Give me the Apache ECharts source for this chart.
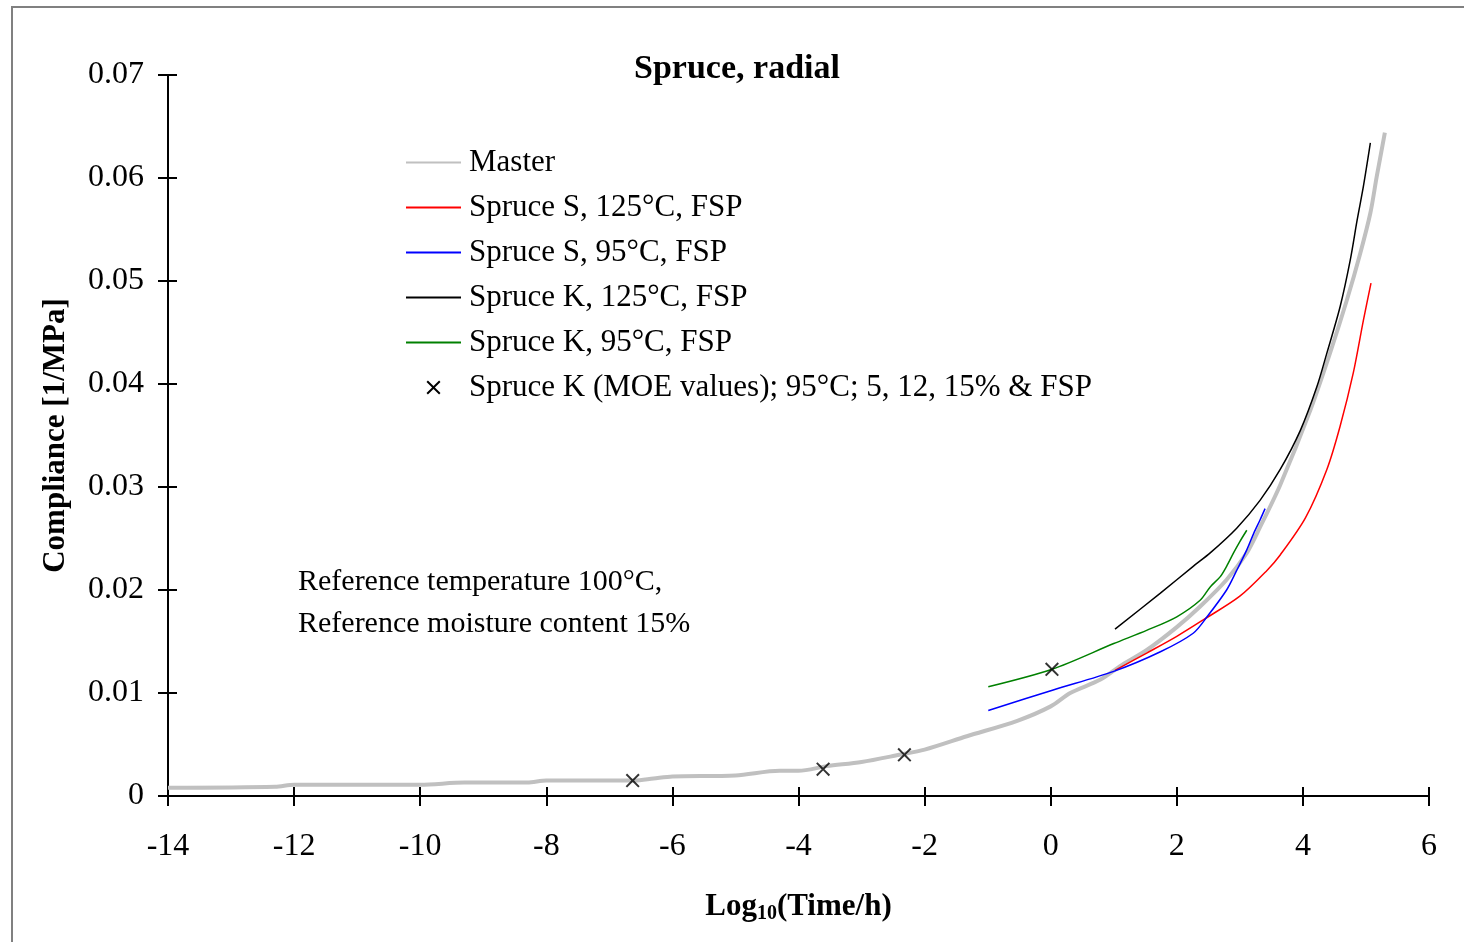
<!DOCTYPE html>
<html><head><meta charset="utf-8">
<script src="https://cdn.jsdelivr.net/npm/echarts@6/dist/echarts.min.js"></script>
<style>html,body{margin:0;padding:0;background:#fff}#c{width:1464px;height:942px}</style>
</head><body><div id="c"></div>
<script>
const xTicks = [-14,-12,-10,-8,-6,-4,-2,0,2,4,6];
const yTicks = [0,0.01,0.02,0.03,0.04,0.05,0.06,0.07];

const master = [[-14,0.0008],[-12.3,0.0009],[-12.0,0.0011],[-10.0,0.0011],[-9.3,0.0013],[-8.3,0.0013],[-8.0,0.0015],[-7.1,0.0015],[-6.6,0.0015],[-6.3,0.0017],[-6.0,0.0019],[-5.0,0.0020],[-4.3,0.00245],[-4.0,0.00245],[-3.55,0.0029],[-3.0,0.0033],[-2.4,0.0040],[-2.0,0.0045],[-1.33,0.0058],[-0.53,0.0073],[0.0,0.0087],[0.31,0.0100],[0.79,0.0113],[1.1,0.0126],[1.53,0.0142],[2.0,0.0164],[2.37,0.0184],[2.79,0.0210],[3.11,0.0236],[3.32,0.0261],[3.64,0.0302],[4.12,0.0375],[4.43,0.0430],[4.70,0.0482],[4.91,0.0527],[5.07,0.0566],[5.17,0.0601],[5.30,0.0644]];
const sprS125 = [[1.02,0.0122],[1.53,0.0139],[2.0,0.0155],[2.42,0.0171],[3.0,0.0194],[3.43,0.0219],[3.64,0.0234],[4.04,0.0270],[4.38,0.0317],[4.59,0.0359],[4.80,0.0411],[4.96,0.0462],[5.08,0.0498]];
const sprS95 = [[-0.99,0.0083],[0.04,0.0103],[1.0,0.0121],[1.74,0.0140],[2.26,0.0158],[2.48,0.0174],[2.79,0.0200],[2.95,0.0219],[3.11,0.0239],[3.22,0.0255],[3.32,0.0268],[3.40,0.0279]];
const sprK125 = [[1.02,0.0162],[1.74,0.0197],[2.26,0.0223],[2.53,0.0236],[2.95,0.0260],[3.32,0.0287],[3.64,0.0317],[3.96,0.0355],[4.22,0.0397],[4.38,0.0430],[4.59,0.0475],[4.75,0.0520],[4.86,0.0559],[4.96,0.0592],[5.07,0.0634]];
const sprK95 = [[-0.99,0.0106],[0.02,0.0123],[1.0,0.0148],[1.53,0.0161],[2.0,0.0174],[2.37,0.0190],[2.53,0.0203],[2.69,0.0213],[2.79,0.0223],[2.90,0.0236],[3.0,0.0247],[3.11,0.0258]];
const moe = [[-6.63,0.0015],[-3.61,0.0026],[-2.32,0.0040],[0.02,0.0123]];

const seriesNames = ['Master','Spruce S, 125°C, FSP','Spruce S, 95°C, FSP','Spruce K, 125°C, FSP','Spruce K, 95°C, FSP','Spruce K (MOE values); 95°C; 5, 12, 15% & FSP'];
const titleText = 'Spruce, radial';
const noteText = 'Reference temperature 100°C,\nReference moisture content 15%';

const crossPath = 'path://M0,10L10,0L50,40L90,0L100,10L60,50L100,90L90,100L50,60L10,100L0,90L40,50Z';
const FONT = '"Liberation Serif","Times New Roman",serif';

const chart = echarts.init(document.getElementById('c'), null, {renderer:'canvas'});
function line(name, data, color, width, z){
  return {name, type:'line', data, symbol:'none', showSymbol:false, z:z||2,
    smooth:0.3,
    lineStyle:{color, width}, itemStyle:{color}, animation:false};
}
chart.setOption({
  animation:false,
  backgroundColor:'#fff',
  textStyle:{fontFamily:FONT},
  grid:{left:168, right:35, top:75, bottom:146},
  legend:{orient:'vertical', left:405, top:147, padding:0, itemWidth:55, itemHeight:14, itemGap:14,
    itemStyle:{opacity:0},
    data:[
      {name:seriesNames[0]},{name:seriesNames[1]},{name:seriesNames[2]},{name:seriesNames[3]},{name:seriesNames[4]},
      {name:seriesNames[5], icon:crossPath, itemStyle:{opacity:1, color:'#000'}}
    ],
    textStyle:{fontFamily:FONT, fontSize:31, color:'#000', padding:[0,0,0,3], lineHeight:31},
    selectedMode:false},
  xAxis:[{type:'value', min:xTicks[0], max:xTicks[xTicks.length-1], interval:2,
    axisLine:{onZero:false, lineStyle:{color:'#000', width:2}},
    axisTick:{show:true, inside:false, length:10, lineStyle:{color:'#000', width:2}},
    axisLabel:{fontFamily:FONT, fontSize:32, color:'#000', margin:35},
    splitLine:{show:false},
    name:'{b|Log}{s|10}{b|(Time/h)}', nameLocation:'middle', nameGap:93,
    nameTextStyle:{rich:{b:{fontFamily:FONT, fontWeight:'bold', fontSize:31, color:'#000'},
      s:{fontFamily:FONT, fontWeight:'bold', fontSize:20, color:'#000', verticalAlign:'bottom', padding:[15,0,0,0]}}}
  },{type:'value', min:xTicks[0], max:xTicks[xTicks.length-1], interval:2, position:'bottom',
    axisLine:{show:false, onZero:false}, axisTick:{show:true, inside:true, length:9, lineStyle:{color:'#000', width:2}},
    axisLabel:{show:false}, splitLine:{show:false}}],
  yAxis:[{type:'value', min:yTicks[0], max:yTicks[yTicks.length-1], interval:0.01,
    axisLine:{show:true, onZero:false, lineStyle:{color:'#000', width:2}},
    axisTick:{show:true, inside:false, length:10, lineStyle:{color:'#000', width:2}},
    axisLabel:{fontFamily:FONT, fontSize:32, color:'#000', margin:24,
      formatter:v=> v===0 ? '0' : v.toFixed(2)},
    splitLine:{show:false},
    name:'Compliance [1/MPa]', nameLocation:'middle', nameGap:97, nameRotate:90,
    nameTextStyle:{fontFamily:FONT, fontWeight:'bold', fontSize:31, color:'#000'}
  },{type:'value', min:yTicks[0], max:yTicks[yTicks.length-1], interval:0.01, position:'left',
    axisLine:{show:false, onZero:false}, axisTick:{show:true, inside:true, length:9, lineStyle:{color:'#000', width:2}},
    axisLabel:{show:false}, splitLine:{show:false}}],
  graphic:[
    {type:'rect', shape:{x:12, y:7, width:1480, height:960}, style:{fill:'none', stroke:'#808080', lineWidth:2}, silent:true, z:-1},
    {type:'text', x:737, y:69, style:{text:titleText, font:'bold 34px '+FONT, fill:'#000', textAlign:'center', textVerticalAlign:'middle'}},
    {type:'text', left:298, top:561, style:{text:noteText, font:'30px '+FONT, fill:'#000', lineHeight:42}}
  ],
  series:[
    line(seriesNames[0], master, '#c0c0c0', 4, 1),
    line(seriesNames[1], sprS125, '#ff0000', 1.5),
    line(seriesNames[2], sprS95, '#0000ff', 1.5),
    line(seriesNames[3], sprK125, '#000000', 1.5),
    line(seriesNames[4], sprK95, '#008000', 1.5),
    {name:seriesNames[5], type:'scatter', data:moe, symbol:crossPath, symbolSize:14, z:5,
      itemStyle:{color:'#000'}}
  ]
});
</script></body></html>
